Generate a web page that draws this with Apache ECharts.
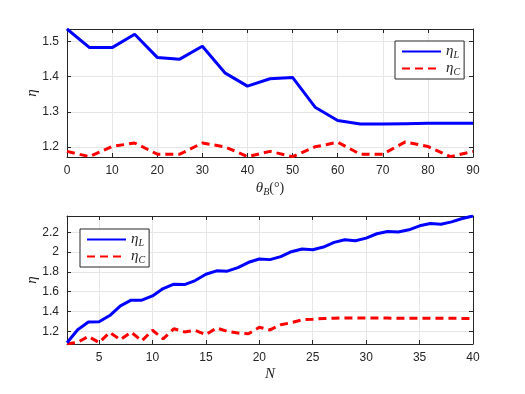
<!DOCTYPE html>
<html>
<head>
<meta charset="utf-8">
<script src="https://cdn.jsdelivr.net/npm/echarts@6/dist/echarts.min.js"></script>
<style>
  html, body { margin: 0; padding: 0; background: #fff; }
  #chart { width: 525px; height: 394px; }
</style>
</head>
<body>
<div id="chart"></div>
<script>
// top panel: efficiency vs theta_B
const thetaB = [0, 5, 10, 15, 20, 25, 30, 35, 40, 45, 50, 55, 60, 65, 70, 75, 80, 85, 90]
const etaLTheta = [1.536, 1.483, 1.483, 1.521, 1.455, 1.450, 1.487, 1.411, 1.373, 1.394, 1.398, 1.313, 1.275, 1.265, 1.265, 1.266, 1.267, 1.267, 1.267]
const etaCTheta = [1.187, 1.172, 1.201, 1.211, 1.179, 1.179, 1.211, 1.200, 1.172, 1.187, 1.172, 1.200, 1.213, 1.179, 1.179, 1.214, 1.201, 1.172, 1.187]

// bottom panel: efficiency vs N
const nValues = [2, 3, 4, 5, 6, 7, 8, 9, 10, 11, 12, 13, 14, 15, 16, 17, 18, 19, 20, 21, 22, 23, 24, 25, 26, 27, 28, 29, 30, 31, 32, 33, 34, 35, 36, 37, 38, 39, 40]
const etaLN = [1.085, 1.217, 1.294, 1.297, 1.360, 1.458, 1.515, 1.515, 1.558, 1.632, 1.676, 1.672, 1.713, 1.776, 1.811, 1.808, 1.843, 1.897, 1.930, 1.924, 1.954, 2.004, 2.031, 2.024, 2.051, 2.098, 2.125, 2.115, 2.141, 2.185, 2.208, 2.202, 2.225, 2.265, 2.288, 2.281, 2.305, 2.339, 2.364]
const etaCN = [1.075, 1.090, 1.150, 1.087, 1.190, 1.117, 1.193, 1.105, 1.212, 1.125, 1.227, 1.195, 1.210, 1.167, 1.235, 1.200, 1.183, 1.177, 1.242, 1.215, 1.267, 1.288, 1.317, 1.323, 1.330, 1.333, 1.335, 1.335, 1.334, 1.334, 1.334, 1.333, 1.333, 1.333, 1.333, 1.332, 1.332, 1.331, 1.330]

const seriesNames = ['etaL', 'etaC']

const axisColor = '#262626'
const gridColor = '#e6e6e6'
const labelFont = 'Liberation Sans'
const serif = 'Liberation Serif'

const rich = {
  i: { fontFamily: serif, fontStyle: 'italic', fontSize: 15, color: axisColor },
  s: { fontFamily: serif, fontStyle: 'italic', fontSize: 10, color: axisColor, verticalAlign: 'bottom', padding: [7, 0, 0, 0] },
  n: { fontFamily: serif, fontSize: 14, color: axisColor }
}

const pairs = (xs, ys) => xs.map((x, i) => [x, ys[i]])
const isStep = (v, step) => Math.abs(v / step - Math.round(v / step)) < 1e-6

function mainX (grid, min, max, split, step, name, gap) {
  return {
    type: 'value', gridIndex: grid, position: 'bottom', min: min, max: max, splitNumber: split,
    axisLine: { show: true, lineStyle: { color: axisColor, width: 1 } },
    axisTick: { show: true, inside: true, length: 4, lineStyle: { color: axisColor } },
    axisLabel: {
      color: axisColor, fontFamily: labelFont, fontSize: 12, margin: 8,
      showMinLabel: isStep(min, step), showMaxLabel: true,
      formatter: v => isStep(v, step) ? String(+v.toFixed(1)) : ''
    },
    splitLine: { show: true, lineStyle: { color: gridColor, width: 1 } },
    name: name, nameLocation: 'middle', nameGap: gap, nameMoveOverlap: false,
    nameTextStyle: { rich: rich }
  }
}

function mirrorX (grid, min, max, split) {
  return {
    type: 'value', gridIndex: grid, position: 'top', min: min, max: max, splitNumber: split,
    axisLine: { show: true, onZero: false, lineStyle: { color: axisColor, width: 1 } },
    axisTick: { show: true, inside: true, length: 4, lineStyle: { color: axisColor } },
    axisLabel: { show: false },
    splitLine: { show: false }
  }
}

function mainY (grid, min, max, split, step) {
  return {
    type: 'value', gridIndex: grid, position: 'left', min: min, max: max, splitNumber: split,
    axisLine: { show: true, onZero: false, lineStyle: { color: axisColor, width: 1 } },
    axisTick: { show: true, inside: true, length: 4, lineStyle: { color: axisColor } },
    axisLabel: {
      color: axisColor, fontFamily: labelFont, fontSize: 12, margin: 8,
      showMinLabel: false, showMaxLabel: false,
      formatter: v => isStep(v, step) ? String(+v.toFixed(1)) : ''
    },
    splitLine: { show: true, lineStyle: { color: gridColor, width: 1 } },
    name: '{i|η}', nameLocation: 'middle', nameGap: 27, nameRotate: 90, nameMoveOverlap: false,
    nameTextStyle: { rich: rich }
  }
}

function mirrorY (grid, min, max, split) {
  return {
    type: 'value', gridIndex: grid, position: 'right', min: min, max: max, splitNumber: split,
    axisLine: { show: true, onZero: false, lineStyle: { color: axisColor, width: 1 } },
    axisTick: { show: true, inside: true, length: 4, lineStyle: { color: axisColor } },
    axisLabel: { show: false },
    splitLine: { show: false }
  }
}

function legendBox (left, top) {
  return {
    data: seriesNames,
    orient: 'vertical',
    left: left, top: top,
    itemWidth: 39, itemHeight: 14, itemGap: 1,
    padding: [3, 4, 2, 6],
    borderColor: axisColor, borderWidth: 1, backgroundColor: '#fff',
    // line only, no marker in the legend
    itemStyle: { color: 'transparent', borderWidth: 0, opacity: 0 },
    formatter: n => n === 'etaL' ? '{i|η}{s|L}' : '{i|η}{s|C}',
    textStyle: { rich: rich }
  }
}

function lineSeries (name, data, x, y, dashed) {
  return {
    name: name, type: 'line', xAxisIndex: x, yAxisIndex: y,
    data: data, symbol: 'none', smooth: false,
    color: dashed ? '#ff0000' : '#0000ff',
    lineStyle: { width: 3, color: dashed ? '#ff0000' : '#0000ff', type: dashed ? [8, 5] : 'solid' },
    z: dashed ? 3 : 4
  }
}

const yTop = [Math.min(...etaCTheta) - 0.001, Math.max(...etaLTheta)]
const yBot = [Math.min(...etaCN) - 0.002, Math.max(...etaLN)]
const xTop = [thetaB[0], thetaB[thetaB.length - 1]]
const xBot = [nValues[0], nValues[nValues.length - 1]]

const chart = echarts.init(document.getElementById('chart'), null, { renderer: 'canvas' })

chart.setOption({
  animation: false,
  backgroundColor: '#fff',
  grid: [
    { left: 67, width: 406, top: 29, height: 128 },
    { left: 67, width: 406, top: 216, height: 128 }
  ],
  legend: [legendBox(395, 41), legendBox(80, 229)],
  xAxis: [
    mainX(0, xTop[0], xTop[1], 9, 10, '{i|θ}{s|B}{n|(°)}', 23),
    mirrorX(0, xTop[0], xTop[1], 9),
    mainX(1, xBot[0], xBot[1], 8, 5, '{i|N}', 23),
    mirrorX(1, xBot[0], xBot[1], 8)
  ],
  yAxis: [
    mainY(0, yTop[0], yTop[1], 4, 0.1),
    mirrorY(0, yTop[0], yTop[1], 4),
    mainY(1, yBot[0], yBot[1], 6, 0.2),
    mirrorY(1, yBot[0], yBot[1], 6)
  ],
  series: [
    lineSeries('etaL', pairs(thetaB, etaLTheta), 0, 0, false),
    lineSeries('etaC', pairs(thetaB, etaCTheta), 0, 0, true),
    lineSeries('etaL', pairs(nValues, etaLN), 2, 2, false),
    lineSeries('etaC', pairs(nValues, etaCN), 2, 2, true)
  ]
})
</script>
</body>
</html>
